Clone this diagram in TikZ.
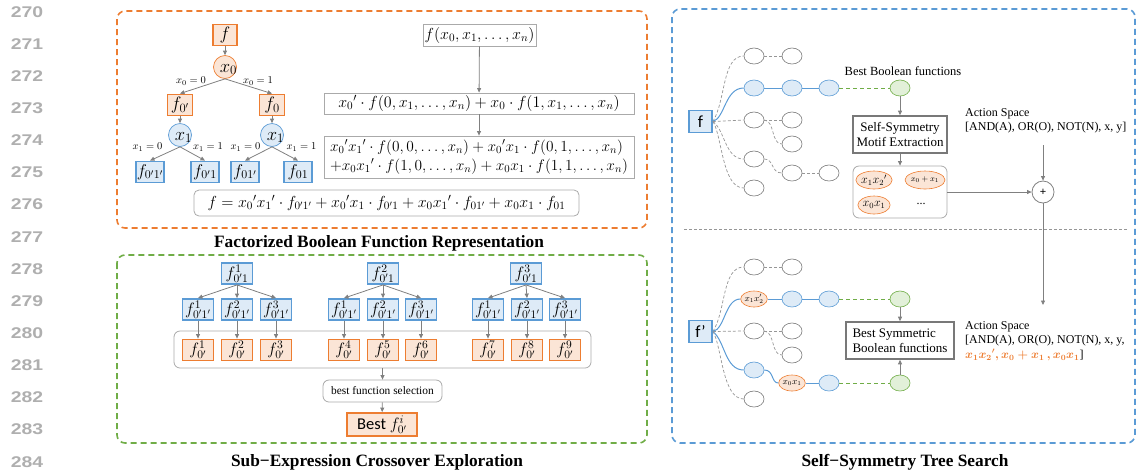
\RequirePackage{fix-cm}
\documentclass[tikz,border=0pt]{standalone}
\usepackage{fontspec}
\usepackage{graphicx}
\setmainfont{Liberation Serif}
\newfontfamily\lnfont{Liberation Sans}
\newfontfamily\calfont{Carlito}
\usetikzlibrary{arrows.meta,shapes.geometric}
\definecolor{ORd}{RGB}{237,125,49}
\definecolor{ORl}{RGB}{251,229,214}
\definecolor{BLd}{RGB}{91,155,213}
\definecolor{BLl}{RGB}{222,235,247}
\definecolor{GRd}{RGB}{112,173,71}
\definecolor{GRl}{RGB}{226,240,217}
\definecolor{ARR}{RGB}{128,128,128}
\definecolor{FBX}{RGB}{170,170,170}
\definecolor{TBX}{RGB}{120,120,120}
\definecolor{ELG}{RGB}{120,120,120}
\definecolor{DSG}{RGB}{150,150,150}
\definecolor{LNc}{RGB}{175,175,175}
\newcommand{\myfs}[2]{\fontsize{#1}{#2}\selectfont}
\tikzset{
  lnum/.style={font=\lnfont\bfseries\myfs{15.5}{16}, text=LNc, inner sep=0},
  ttl/.style={font=\bfseries\myfs{17.3}{18}, inner sep=0},
  obox/.style={draw=ORd, fill=ORl, line width=1.8pt, inner sep=0.5pt, minimum height=21pt},
  bbox/.style={draw=BLd, fill=BLl, line width=1.8pt, inner sep=0.5pt, minimum height=21pt},
  ocirc/.style={circle, draw=ORd, fill=ORl, line width=0.7pt, minimum size=23pt, inner sep=0},
  bcirc/.style={circle, draw=BLd, fill=BLl, line width=0.7pt, minimum size=23pt, inner sep=0},
  arr/.style={draw=ARR, line width=0.8pt, -{Triangle[length=4.5pt,width=4pt]}},
  fbox/.style={draw=FBX, line width=0.8pt, fill=white, inner sep=0},
  cont/.style={draw=FBX, line width=0.8pt, rounded corners=6pt, inner sep=0},
  ell/.style={ellipse, draw=ELG, line width=0.6pt, minimum width=20pt, minimum height=16pt, inner sep=0},
  bell/.style={ell, draw=BLd, fill=BLl},
  oell/.style={ell, draw=ORd, fill=ORl},
  gell/.style={ell, draw=GRd, fill=GRl},
  dsh/.style={draw=DSG, line width=0.7pt, dash pattern=on 3pt off 2pt},
  bln/.style={draw=BLd, line width=1pt},
  gdsh/.style={draw=GRd, line width=1pt, dash pattern=on 4pt off 3pt},
  tbox/.style={draw=TBX, line width=1.6pt, fill=white, inner sep=0, align=center},
  lab/.style={inner sep=0, font=\myfs{10.5}{11}},
  bl/.style={inner sep=0, font=\myfs{18.5}{18}},
  tnode/.style={minimum width=25pt, font=\myfs{18}{18}},
  lnode/.style={bbox, minimum width=28pt, minimum height=21pt, font=\myfs{17}{17}},
  sbx/.style={minimum width=31pt, minimum height=21pt, font=\myfs{16.5}{16}},
}
\begin{document}
\begin{tikzpicture}[x=1pt,y=-1pt]
\useasboundingbox (0,0) rectangle (1137,475);
% line numbers
\foreach \i in {0,...,14}
  \node[lnum] (ln\i) at (27,11.7+32.14*\i) {\scalebox{1.25}[1]{\the\numexpr270+\i\relax}};
% section frames
\draw[ORd, line width=1.6pt, dash pattern=on 6pt off 4pt, rounded corners=8pt] (117,11) rectangle (647,228);
\draw[GRd, line width=1.6pt, dash pattern=on 6pt off 4pt, rounded corners=8pt] (117,255) rectangle (647,443);
\draw[BLd, line width=1.6pt, dash pattern=on 6pt off 4pt, rounded corners=8pt] (672,9) rectangle (1135,443);
\node[ttl] (t1) at (379,243) {Factorized Boolean Function Representation};
\node[ttl] (t2) at (377,462) {Sub−Expression Crossover Exploration};
\node[ttl] (t3) at (905,462) {Self−Symmetry Tree Search};
% ---------- factorization tree ----------
\node[obox, tnode, minimum width=24pt] (f) at (225,35) {$f$};
\node[ocirc] (x0) at (225,67) {};
\node[bl] (x0t) at (228.5,69.5) {$x_0$};
\node[obox, tnode] (f0p) at (180,105) {$f_{0'}$};
\node[obox, tnode] (f0) at (272,105) {$f_0$};
\node[bcirc] (x1a) at (180,135) {};
\node[bl] (x1at) at (183.5,137.5) {$x_1$};
\node[bcirc] (x1b) at (272,135) {};
\node[bl] (x1bt) at (275.5,137.5) {$x_1$};
\node[lnode] (l1) at (150,172) {$f_{0'1'}$};
\node[lnode] (l2) at (205,172) {$f_{0'1}$};
\node[lnode] (l3) at (245,172) {$f_{01'}$};
\node[lnode] (l4) at (298,172) {$f_{01}$};
\draw[arr] (f) -- (x0);
\draw[arr] (x0.south) -- (f0p.north);
\draw[arr] (x0.south) -- (f0.north);
\draw[arr] (f0p) -- (x1a);
\draw[arr] (f0) -- (x1b);
\draw[arr] (x1a.south) -- (l1.north);
\draw[arr] (x1a.south) -- (l2.north);
\draw[arr] (x1b.south) -- (l3.north);
\draw[arr] (x1b.south) -- (l4.north);
\node[lab] (lb1) at (191,81) {$x_0=0$};
\node[lab] (lb2) at (258,81) {$x_0=1$};
\node[lab] (lb3) at (147.5,147) {$x_1=0$};
\node[lab] (lb4) at (208,147) {$x_1=1$};
\node[lab] (lb5) at (245.5,147) {$x_1=0$};
\node[lab] (lb6) at (301.5,147) {$x_1=1$};
% ---------- formulas ----------
\node[fbox, minimum width=113pt, minimum height=22pt, font=\myfs{16}{16}] (F1) at (479.5,35) {$f(x_0,x_1,\ldots,x_n)$};
\node[fbox, minimum width=310pt, minimum height=21pt, font=\myfs{16}{16}] (F2) at (479,103.5) {$x_0{}'\cdot f(0,x_1,\ldots,x_n)+x_0\cdot f(1,x_1,\ldots,x_n)$};
\node[fbox, minimum width=310pt, minimum height=42pt, font=\myfs{15.4}{19}, align=left] (F3) at (479,157) {$x_0{}'x_1{}'\cdot f(0,0,\ldots,x_n)+x_0{}'x_1\cdot f(0,1,\ldots,x_n)$\\$+x_0x_1{}'\cdot f(1,0,\ldots,x_n)+x_0x_1\cdot f(1,1,\ldots,x_n)$};
\node[fbox, rounded corners=5pt, minimum width=385pt, minimum height=26pt, font=\myfs{16}{16}] (F4) at (386.5,203) {$f=x_0{}'x_1{}'\cdot f_{0'1'}+x_0{}'x_1\cdot f_{0'1}+x_0x_1{}'\cdot f_{01'}+x_0x_1\cdot f_{01}$};
\draw[arr] (F1) -- (F2);
\draw[arr] (F2) -- (F3);
% ---------- crossover ----------
\node[cont, minimum width=417pt, minimum height=37pt] (C) at (382.5,349.5) {};
\node[bbox, sbx] (P1) at (237,273.5) {$f^1_{0'1}$};
\node[bbox, sbx] (P2) at (383,273.5) {$f^2_{0'1}$};
\node[bbox, sbx] (P3) at (526,273.5) {$f^3_{0'1}$};
\node[bbox, sbx] (Q1) at (198,309.5) {$f^1_{0'1'}$};
\node[bbox, sbx] (Q2) at (237,309.5) {$f^2_{0'1'}$};
\node[bbox, sbx] (Q3) at (276,309.5) {$f^3_{0'1'}$};
\node[bbox, sbx] (Q4) at (344,309.5) {$f^1_{0'1'}$};
\node[bbox, sbx] (Q5) at (383,309.5) {$f^2_{0'1'}$};
\node[bbox, sbx] (Q6) at (421,309.5) {$f^3_{0'1'}$};
\node[bbox, sbx] (Q7) at (488,309.5) {$f^1_{0'1'}$};
\node[bbox, sbx] (Q8) at (527,309.5) {$f^2_{0'1'}$};
\node[bbox, sbx] (Q9) at (565,309.5) {$f^3_{0'1'}$};
\node[obox, sbx] (R1) at (198,350) {$f^1_{0'}$};
\node[obox, sbx] (R2) at (237,350) {$f^2_{0'}$};
\node[obox, sbx] (R3) at (276,350) {$f^3_{0'}$};
\node[obox, sbx] (R4) at (344,350) {$f^4_{0'}$};
\node[obox, sbx] (R5) at (383,350) {$f^5_{0'}$};
\node[obox, sbx] (R6) at (421,350) {$f^6_{0'}$};
\node[obox, sbx] (R7) at (488,350) {$f^7_{0'}$};
\node[obox, sbx] (R8) at (527,350) {$f^8_{0'}$};
\node[obox, sbx] (R9) at (565,350) {$f^9_{0'}$};
\foreach \p/\a/\b/\c in {P1/Q1/Q2/Q3, P2/Q4/Q5/Q6, P3/Q7/Q8/Q9}{
  \draw[arr] (\p.south) -- (\a.north);
  \draw[arr] (\p.south) -- (\b.north);
  \draw[arr] (\p.south) -- (\c.north);
}
\foreach \i in {1,...,9}
  \draw[arr] (Q\i) -- (R\i);
\node[cont, fill=white, minimum width=119pt, minimum height=22pt, font=\myfs{11.4}{12}] (sel) at (382.5,391) {best function selection};
\node[obox, minimum width=70pt, minimum height=23pt, font=\myfs{16.5}{16}] (best) at (382,424.5) {\calfont Best $f^i_{0'}$};
\draw[arr] (C.south) -- (sel.north);
\draw[arr] (sel) -- (best);
% ---------- tree search (top) ----------
\node[bbox, minimum width=23pt, minimum height=22pt, font=\calfont\myfs{17}{17}] (ft) at (700.5,121.5) {f};
\node[ell] (a1) at (754,56) {};
\node[ell] (a2) at (792,56) {};
\node[bell] (b1) at (754,88) {};
\node[bell] (b2) at (792,88) {};
\node[bell] (b3) at (829,88) {};
\node[gell] (gt) at (900,88) {};
\node[ell] (c1) at (754,120) {};
\node[ell] (c2) at (792,120) {};
\node[ell] (d2) at (792,144) {};
\node[ell] (e1) at (754,159) {};
\node[ell] (e2) at (792,173) {};
\node[ell] (e3) at (829,173) {};
\node[ell] (g1) at (754,188) {};
\draw[dsh] (ft.east) .. controls (726,100) and (722,56) .. (a1.west);
\draw[bln] (ft.east) .. controls (725,118) and (725,88) .. (b1.west);
\draw[dsh] (ft.east) -- (c1.west);
\draw[dsh] (ft.east) .. controls (725,130) and (725,159) .. (e1.west);
\draw[dsh] (ft.east) .. controls (722,135) and (722,188) .. (g1.west);
\draw[dsh] (a1) -- (a2);
\draw[dsh] (c1) -- (c2);
\draw[dsh] (e2) -- (e3);
\draw[dsh] (c1.east) .. controls (775,121) and (771,144) .. (d2.west);
\draw[dsh] (e1.east) .. controls (774,159) and (771,173) .. (e2.west);
\draw[bln] (b1) -- (b2) -- (b3);
\draw[gdsh] (b3) -- (gt);
\node[inner sep=0, font=\myfs{12.5}{13}] (bbf) at (903,71) {Best Boolean functions};
\node[tbox, minimum width=94pt, minimum height=37pt, font=\myfs{13}{15}] (sme) at (900,134.5) {Self-Symmetry\\Motif Extraction};
\node[cont, minimum width=94pt, minimum height=52pt] (C2) at (900,192) {};
\node[oell, minimum width=30pt, minimum height=18pt, font=\myfs{12}{12}] (m1) at (874,180) {$x_1x_2{}'$};
\node[oell, minimum width=30pt, minimum height=18pt, font=\myfs{8}{8}] (m2) at (925,180) {$x_0+x_1$};
\node[oell, minimum width=30pt, minimum height=18pt, font=\myfs{12}{12}] (m3) at (874,205) {$x_0x_1$};
\node[inner sep=0, font=\myfs{12}{12}] (dots) at (921,204) {...};
\draw[arr] (gt) -- (sme);
\draw[arr] (sme) -- (C2);
\node[circle, draw=ARR, line width=0.8pt, fill=white, minimum size=22pt, inner sep=0, font=\lnfont\myfs{11}{11}] (pl) at (1043,192) {+};
\draw[arr] (C2.east) -- (pl.west);
\node[anchor=west, align=left, inner sep=0, font=\myfs{12}{14}] (as1t) at (965,121) {Action Space\\{[AND(A), OR(O), NOT(N), x, y]}};
\coordinate (as1) at (1043,145);
\draw[arr] (as1) -- (pl.north);
\coordinate (as2) at (1043,305);
\draw[arr] (pl.south) -- (as2);
\draw[DSG, line width=0.8pt, dash pattern=on 3pt off 2pt] (684,229) -- (1127,229);
% ---------- tree search (bottom) ----------
\node[bbox, minimum width=23pt, minimum height=22pt, font=\calfont\myfs{17}{17}] (fb) at (700.5,331.5) {f’};
\node[ell] (A1) at (754,267) {};
\node[ell] (A2) at (792,267) {};
\node[oell, font=\myfs{9}{9}] (B1) at (754,299) {$x_1x_2'$};
\node[bell] (B2) at (792,299) {};
\node[bell] (B3) at (829,299) {};
\node[gell] (gb1) at (900,299) {};
\node[ell] (C1) at (754,331) {};
\node[ell] (CC2) at (792,331) {};
\node[ell] (D2) at (792,355) {};
\node[bell] (E1) at (754,370) {};
\node[oell, font=\myfs{9}{9}] (E2) at (792,383) {$x_0x_1$};
\node[bell] (E3) at (829,383) {};
\node[gell] (gb2) at (900,383) {};
\node[ell] (G1) at (754,399) {};
\draw[dsh] (fb.east) .. controls (726,311) and (722,267) .. (A1.west);
\draw[bln] (fb.east) .. controls (725,329) and (725,299) .. (B1.west);
\draw[dsh] (fb.east) -- (C1.west);
\draw[bln] (fb.east) .. controls (725,341) and (725,370) .. (E1.west);
\draw[dsh] (fb.east) .. controls (722,346) and (722,399) .. (G1.west);
\draw[dsh] (A1) -- (A2);
\draw[dsh] (C1) -- (CC2);
\draw[dsh] (C1.east) .. controls (775,332) and (771,355) .. (D2.west);
\draw[bln] (E1.east) .. controls (774,370) and (771,383) .. (E2.west);
\draw[bln] (B1) -- (B2) -- (B3);
\draw[bln] (E2) -- (E3);
\draw[gdsh] (B3) -- (gb1);
\draw[gdsh] (E3) -- (gb2);
\node[tbox, align=left, minimum width=108pt, minimum height=37pt, font=\myfs{13}{15}] (bsb) at (900,340.5) {Best Symmetric\\Boolean functions};
\draw[arr] (gb1) -- (bsb);
\draw[arr] (gb2) -- (bsb);
\node[anchor=west, align=left, inner sep=0, font=\myfs{12}{14.5}] (as2t) at (965,341) {Action Space\\{[AND(A), OR(O), NOT(N), x, y,}\\{\color{ORd}\boldmath$x_1x_2{}',x_0+x_1\,,x_0x_1$}]};
\end{tikzpicture}
\end{document}
